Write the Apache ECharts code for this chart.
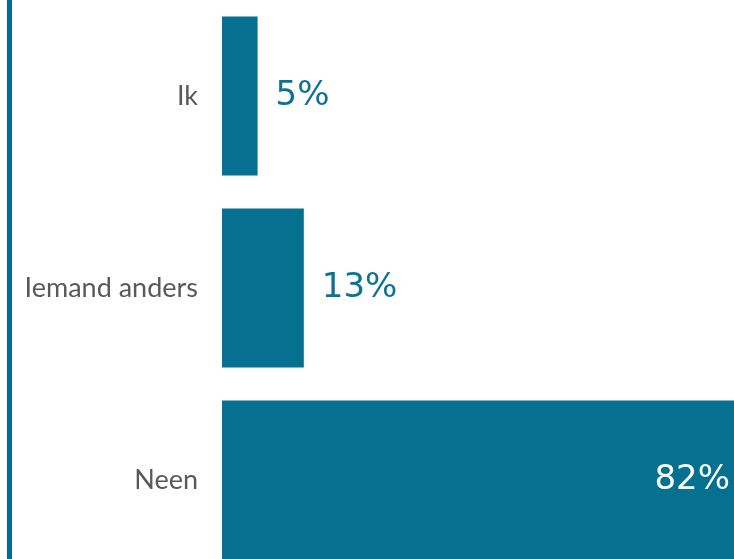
<!DOCTYPE html>
<html>
<head>
<meta charset="utf-8">
<script src="https://cdn.jsdelivr.net/npm/echarts@6/dist/echarts.min.js"></script>
<style>html,body{margin:0;padding:0;background:#fff;}#c{width:734px;height:559px;}</style>
</head>
<body>
<div id="c"></div>
<script>
var categories = ['Ik', 'Iemand anders', 'Neen'];
var values = [5.7, 13.1, 82];
var valueLabels = ['5%', '13%', '82%'];

var chart = echarts.init(document.getElementById('c'));
var barColor = '#05708f';
var data = values.map(function (v, i) {
  var inside = i === 2;
  return {
    value: v,
    label: inside ? {position: 'insideRight', distance: 4, color: '#ffffff'} : {position: 'right', distance: 18, color: '#0a7293'}
  };
});
chart.setOption({
  animation: false,
  grid: {left: 222, right: 0, top: 0, height: 576, outerBoundsMode: 'none', containLabel: false},
  xAxis: {type: 'value', min: 0, max: 82, show: false},
  yAxis: {
    type: 'category', data: categories, inverse: true,
    axisLine: {show: false}, axisTick: {show: false},
    axisLabel: {color: '#595959', fontSize: 27, fontFamily: 'Lato', margin: 24}
  },
  series: [{
    type: 'bar', data: data, barCategoryGap: '17.2%',
    itemStyle: {color: barColor},
    label: {show: true, fontSize: 34, fontFamily: 'DejaVu Sans',
      formatter: function (p) { return valueLabels[p.dataIndex]; }}
  }],
  graphic: [{type: 'rect', shape: {x: 7, y: 0, width: 5, height: 559}, style: {fill: '#006e91'}}]
});
</script>
</body>
</html>
